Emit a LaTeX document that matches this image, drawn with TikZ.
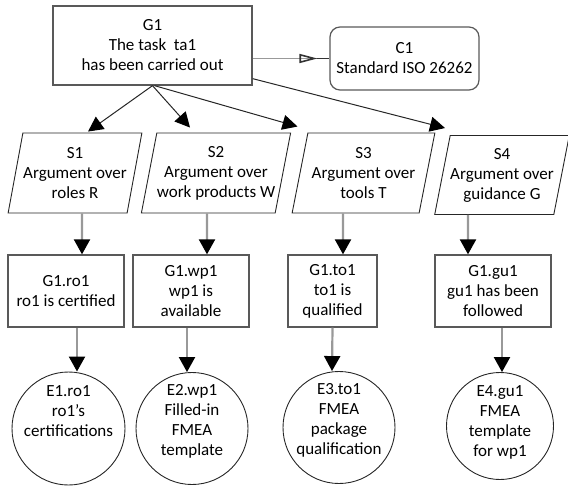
\documentclass[tikz,border=0pt]{standalone}
\usepackage{fontspec}
\setmainfont{Carlito}
\usepackage{tikz}
\usetikzlibrary{positioning,shapes.geometric,arrows.meta,calc}

\begin{document}
\begin{tikzpicture}[
    x=1pt, y=-1pt,
    font=\fontsize{17}{20}\selectfont,
    goal/.style={
        draw=black!65,
        line width=1.3pt,
        align=center,
        inner sep=1pt
    },
    strat/.style={
        trapezium,
        trapezium left angle=74,
        trapezium right angle=106,
        trapezium stretches=true,
        draw=black!85,
        line width=0.9pt,
        minimum height=80pt,
        align=center,
        inner sep=0pt
    },
    ctx/.style={
        draw=black!65,
        rounded corners=10pt,
        line width=1.2pt,
        align=center
    },
    ev/.style={
        circle,
        draw=black!85,
        line width=0.9pt
    },
    evtext/.style={align=center, inner sep=0pt},
    arr/.style={-{Triangle[length=15pt,width=15pt,color=black]}, draw=black!85, line width=1pt},
    varr/.style={-{Triangle[length=15pt,width=16pt,color=black]}, draw=gray!80, line width=2.2pt},
    ctxarr/.style={-{Triangle[open,length=18pt,width=9pt,color=black!80] Rectangle[length=12pt,width=1.4pt,color=black!80]}, draw=gray!80, line width=1.6pt}
]
\useasboundingbox (0,0) rectangle (568,487);

\node[goal, minimum width=199pt, minimum height=79pt] (g1) at (152.5,45.5)
{G1\\The task~ ta1\\has been carried out};

\node[ctx, minimum width=149pt, minimum height=63pt] (c1) at (404.5,58.5)
{C1\\Standard ISO 26262};

\draw[ctxarr] (g1.east |- c1.west) -- (c1.west);

% strategies
\node[strat, minimum width=134pt] (s1) at (75,173)  {S1\\Argument over\\roles R};
\node[strat, minimum width=148pt] (s2) at (216,173) {S2\\Argument over\\work products W};
\node[strat, minimum width=143pt] (s3) at (363.5,173) {S3\\Argument over\\tools T};
\node[strat, minimum width=130pt, minimum height=79pt] (s4) at (502,175) {S4\\Argument over\\guidance G};

\draw[arr] (g1.south) -- ($(s1.north)+(13,-1)$);
\draw[arr] (g1.south) -- ($(s2.north)+(-26,-5)$);
\draw[arr] ($(g1.south)+(2,0)$) -- ($(s3.north)+(-66,-6)$);
\draw[arr] ($(g1.south east)+(0,-7)$) -- ($(s4.north)+(-57,-7)$);

% sub-goals
\node[goal, minimum width=116pt, minimum height=72pt] (ro1) at (66,291)    {G1.ro1\\ro1 is certified};
\node[goal, minimum width=116pt, minimum height=72pt] (wp1) at (191,291)   {G1.wp1\\wp1 is\\available};
\node[goal, minimum width=89pt,  minimum height=72pt] (to1) at (332.5,291) {G1.to1\\to1 is\\qualified};
\node[goal, minimum width=116pt, minimum height=72pt] (gu1) at (493,291)   {G1.gu1\\gu1 has been\\followed};

\draw[varr] ($(s1.south)+(7,0)$)     -- ($(ro1.north)+(16,0)$);
\draw[varr] ($(s2.south)+(-9,0)$)    -- ($(wp1.north)+(16,0)$);
\draw[varr] ($(s3.south)+(-20.5,0)$) -- ($(to1.north)+(10.5,0)$);
\draw[varr] ($(s4.south)+(-34,0)$)   -- ($(gu1.north)+(-25,0)$);

% evidence
\node[ev, minimum size=113pt] (e1) at (68.5,428.5) {};
\node[ev, minimum size=112pt] (e2) at (192,428.5)  {};
\node[ev, minimum size=112pt] (e3) at (339,427.5)  {};
\node[ev, minimum size=107pt] (e4) at (500,426)    {};

\node[evtext] (e1t) at ([yshift=17pt]e1.center) {E1.ro1\\ro1’s\\certifications};
\node[evtext] (e2t) at ([yshift=7pt]e2.center)  {E2.wp1\\Filled-in\\FMEA\\template};
\node[evtext] (e3t) at ([yshift=7pt]e3.center)  {E3.to1\\FMEA\\package\\qualification};
\node[evtext] (e4t) at ([yshift=4pt]e4.center)  {E4.gu1\\FMEA\\template\\for wp1};

\draw[varr] ($(ro1.south)+(11,0)$) -- ($(e1.north)+(8.5,0)$);
\draw[varr] ($(wp1.south)+(-4,0)$) -- ($(e2.north)+(-5,0)$);
\draw[varr] (to1.south)            -- ($(e3.north)+(-7,0)$);
\draw[varr] ($(gu1.south)+(9,0)$)  -- ($(e4.north)+(2,0)$);

\end{tikzpicture}
\end{document}
